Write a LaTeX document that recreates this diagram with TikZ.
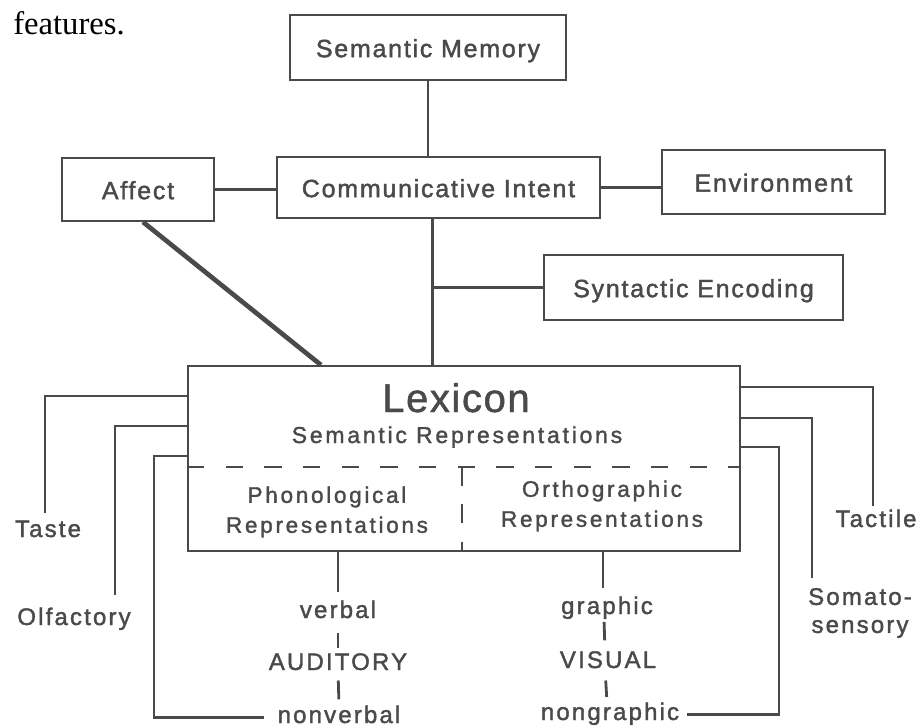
\documentclass[tikz,border=0pt]{standalone}
\usepackage{fontspec}
\setmainfont{Liberation Serif}
\newfontfamily\boxfont{Liberation Sans}[LetterSpace=7,FakeBold=1.6]
\newfontfamily\smallfont{Liberation Sans}[LetterSpace=9,FakeBold=1.6]
\newfontfamily\innerfont{Liberation Sans}[LetterSpace=12,FakeBold=1.4]
\newfontfamily\lexfont{Liberation Sans}[LetterSpace=4,FakeBold=1.2]
\usetikzlibrary{calc}
\definecolor{ink}{HTML}{4A4A4A}
\begin{document}
\begin{tikzpicture}[x=0.75pt,y=-0.75pt,
  box/.style={draw=ink,line width=1.5pt,inner sep=0pt,text=ink},
  toplbl/.style={font=\boxfont\fontsize{18.75}{22}\selectfont,text height=18pt,text depth=3.5pt},
  lbl/.style={text=ink,inner sep=0pt,font=\smallfont\fontsize{18}{21}\selectfont},
  conn/.style={draw=ink,line width=2.1pt},
  divider/.style={draw=ink,line width=1.5pt}]
\fill[white] (0,0) rectangle (922,728);
\useasboundingbox (0,0) rectangle (922,728);

% caption fragment
\node[anchor=base west,inner sep=0pt,font=\fontsize{24.5}{28}\selectfont] (feat) at (13,35) {features.};

% boxes
\node[box,toplbl,minimum width=207pt,minimum height=48.75pt] (SM) at (428,47.5) {Semantic Memory};
\node[box,toplbl,minimum width=114pt,minimum height=47.25pt] (Affect) at (138,189.5) {Affect};
\node[box,toplbl,minimum width=242.25pt,minimum height=45.75pt] (CI) at (438.5,187.5) {Communicative Intent};
\node[box,toplbl,minimum width=167.25pt,minimum height=48pt] (Env) at (773.5,182) {Environment};
\node[box,toplbl,minimum width=224.25pt,minimum height=48.75pt] (SE) at (693.5,287.5) {Syntactic Encoding};
\node[box,minimum width=414pt,minimum height=138.75pt] (Lex) at (464,458.5) {};

% lexicon contents
\node[anchor=base,text=ink,inner sep=0pt,font=\lexfont\fontsize{30}{34}\selectfont] (LexT) at (456,412) {Lexicon};
\node[anchor=base,text=ink,inner sep=0pt,font=\innerfont\fontsize{17.25}{20}\selectfont] (SemR) at (457,443) {Semantic Representations};
\node[text=ink,inner sep=0pt,align=center,font=\innerfont\fontsize{16.9}{22.5}\selectfont] (Phon) at (327,512) {Phonological\\Representations};
\node[text=ink,inner sep=0pt,align=center,font=\innerfont\fontsize{16.9}{22.5}\selectfont] (Orth) at (602,506) {Orthographic\\Representations};
\draw[divider,dash pattern=on 13pt off 16pt] ($(Lex.north west)+(0,102)$) -- ($(Lex.north east)+(0,102)$);
\draw[divider,dash pattern=on 14pt off 14pt] ($(Lex.north west)+(275,102)$) -- ($(Lex.south west)+(275,0)$);

% sensory labels
\node[lbl,anchor=base] (Taste) at (48,537) {Taste};
\node[lbl,anchor=base] (Olf) at (74,625) {Olfactory};
\node[lbl,anchor=base] (Tact) at (876,527) {Tactile};
\node[lbl,align=center,font=\smallfont\fontsize{18}{21}\selectfont] (Soma) at (860,613) {Somato-\\sensory};

% modality labels
\node[lbl,anchor=base] (verbal) at (338,618) {verbal};
\node[lbl,anchor=base] (AUD) at (338,670) {AUDITORY};
\node[lbl,anchor=base] (nonv) at (339,723) {nonverbal};
\node[lbl,anchor=base] (graphic) at (607,614) {graphic};
\node[lbl,anchor=base] (VIS) at (608,668) {VISUAL};
\node[lbl,anchor=base] (nong) at (610,720) {nongraphic};

% main connectors
\draw[conn] (SM.south) -- (SM.south |- CI.north);
\coordinate (cx) at ($(CI.south)+(-6,0)$);
\draw[conn] (cx) -- (cx |- Lex.north);
\draw[conn] (SE.west) -- (SE.west -| cx);
\draw[conn] (Affect.east) -- (Affect.east -| CI.west);
\draw[conn] (CI.east) -- (CI.east -| Env.west);
\draw[draw=ink,line width=3.5pt] ($(Affect.south)+(5,0)$) -- ($(Lex.north west)+(134,0)$);

% left sensory connectors
\draw[conn] ($(Lex.north west)+(0,31)$) -| ($(Taste.north)+(-3,-7)$);
\draw[conn] ($(Lex.north west)+(0,61)$) -| ($(Olf.north)+(41,-12)$);
\draw[conn] ($(Lex.north west)+(0,91)$) -- ++(-33,0) |- ($(nonv.west)+(-13,3)$);

% right sensory connectors
\draw[conn] ($(Lex.north east)+(0,22)$) -| ($(Tact.north)+(-3,-3)$);
\draw[conn] ($(Lex.north east)+(0,53)$) -| ($(Soma.north)+(-48,-10)$);
\draw[conn] ($(Lex.north east)+(0,82)$) -- ++(38,0) |- ($(nong.east)+(8,1)$);

% down from lexicon
\draw[conn] (Lex.south -| verbal.north) -- ($(verbal.north)+(0,-8)$);
\coordinate (gx) at ($(graphic.north)+(-4,-8)$);
\draw[conn] (Lex.south -| gx) -- (gx);

% short bars
\draw[conn,shorten <=11pt,shorten >=4pt] (verbal.south) -- (AUD.north);
\draw[conn,shorten <=7.5pt,shorten >=4.5pt] (AUD.south) -- (nonv.north);
\draw[conn,shorten <=2pt,shorten >=8pt] ($(graphic.south)+(-3,0)$) -- ($(VIS.north)+(-3,0)$);
\draw[conn,shorten <=9pt,shorten >=4pt] ($(VIS.south)+(-3,0)$) -- ($(nong.north)+(-3,0)$);
\end{tikzpicture}
\end{document}
